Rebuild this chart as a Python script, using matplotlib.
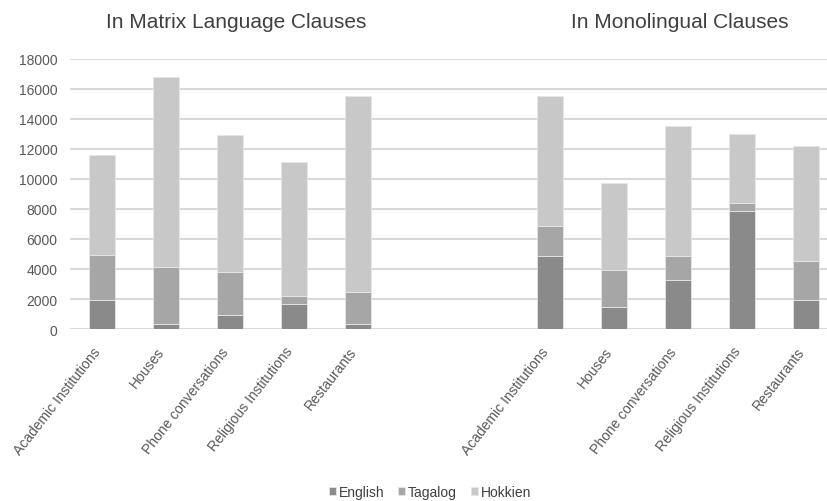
import numpy as np
import matplotlib
matplotlib.use('Agg')
from matplotlib import pyplot as plt
from matplotlib.transforms import ScaledTranslation

plt.rcParams['font.family'] = ['Liberation Sans', 'DejaVu Sans']

settings = ['Academic Institutions', 'Houses', 'Phone conversations',
            'Religious Institutions', 'Restaurants']
languages = ['English', 'Tagalog', 'Hokkien']
colors = ['#8a8a8a', '#a6a6a6', '#c8c8c8']

# matrix language clauses
matrix_english = [1950, 350, 950, 1650, 350]
matrix_tagalog = [3000, 3750, 2850, 550, 2150]
matrix_hokkien = [6650, 12700, 9100, 8950, 13000]

# monolingual clauses
mono_english = [4850, 1500, 3250, 7850, 1950]
mono_tagalog = [2000, 2450, 1600, 550, 2600]
mono_hokkien = [8650, 5800, 8650, 4600, 7650]

x_matrix = np.arange(5)
x_mono = np.arange(7, 12)

fig = plt.figure(figsize=(8.27, 5.02), dpi=100)
ax = fig.add_axes([0.0846, 0.3426, 0.929, 0.538])

width = 0.4
for xs, series in [(x_matrix, [matrix_english, matrix_tagalog, matrix_hokkien]),
                   (x_mono, [mono_english, mono_tagalog, mono_hokkien])]:
    bottom = np.zeros(5)
    for i, vals in enumerate(series):
        ax.bar(xs, vals, width, bottom=bottom, color=colors[i],
               edgecolor='#e6e6e6', linewidth=0.6, zorder=3,
               label=languages[i] if xs[0] == 0 else None)
        bottom += np.array(vals)

ax.set_xlim(-0.5, 11.5)
ax.set_ylim(0, 18000)
ax.set_yticks(np.arange(0, 18001, 2000))
ax.yaxis.grid(True, color='#d9d9d9', linewidth=1.5, zorder=0)
for s in ['top', 'right', 'left', 'bottom']:
    ax.spines[s].set_visible(False)
ax.tick_params(axis='both', length=0, colors='#595959', labelsize=10)
ax.tick_params(axis='y', pad=9)

ax.set_xticks(list(x_matrix) + list(x_mono))
ax.set_xticklabels(settings + settings, rotation=52, ha='right',
                   rotation_mode='anchor')
ax.tick_params(axis='x', pad=11)
# nudge rotated labels a bit to the left
shift = ScaledTranslation(-7/72, 0, fig.dpi_scale_trans)
for lab in ax.get_xticklabels():
    lab.set_transform(lab.get_transform() + shift)

ax.text(2.1, 20500, 'In Matrix Language Clauses', ha='center', va='center',
        fontsize=15, color='#404040')
ax.text(9.02, 20500, 'In Monolingual Clauses', ha='center', va='center',
        fontsize=15, color='#404040')

fig.legend(loc='lower center', bbox_to_anchor=(0.52, -0.02), ncol=3,
           frameon=False, fontsize=10, handlelength=0.5, handleheight=0.5,
           handletextpad=0.2, columnspacing=1.0, labelcolor='#404040')

fig.savefig('out.png', dpi=100)
